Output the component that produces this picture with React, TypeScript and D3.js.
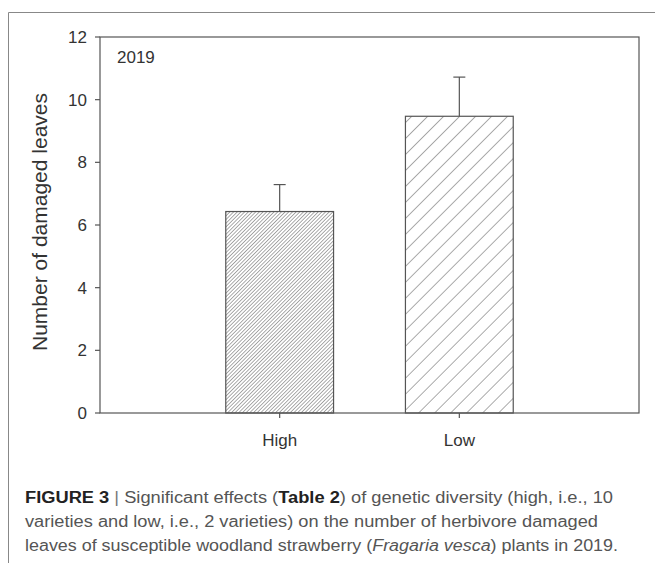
import React from 'react';
import * as d3 from 'd3';

const categories = ['High', 'Low'];
const meanValues = [6.43, 9.47];
const errorValues = [0.86, 1.25];
const yTicks = [0, 2, 4, 6, 8, 10, 12];

const W = 655;
const H = 563;
const margin = { top: 37, right: 16, bottom: 150, left: 100 };
const ink = '#555';
const font = '"Liberation Sans", Arial, sans-serif';
// perpendicular spacing of the diagonal hatching, dense for High, sparse for Low
const hatchGap = [2.6, 11.3];

const App: React.FC = () => {
  const x = d3
    .scaleBand<string>()
    .domain(categories)
    .range([margin.left, W - margin.right])
    .paddingInner(0.4)
    .paddingOuter(0.7);
  const y = d3.scaleLinear().domain([0, 12]).range([H - margin.bottom, margin.top]);
  const bottom = y(0);

  return (
    <svg width={W} height={H} style={{ position: 'absolute', left: 0, top: 0, background: '#fff' }}>
      <defs>
        {categories.map((c, i) => (
          <pattern
            key={c}
            id={`hatch-${i}`}
            patternUnits="userSpaceOnUse"
            width={hatchGap[i]}
            height={hatchGap[i]}
            patternTransform="rotate(45)"
          >
            <line x1={0} y1={0} x2={0} y2={hatchGap[i]} stroke="#444" strokeWidth={0.9} />
          </pattern>
        ))}
      </defs>

      {/* outer frame */}
      <line x1={8.5} y1={12.5} x2={W} y2={12.5} stroke="#888" strokeWidth={1} />
      <line x1={8.5} y1={12.5} x2={8.5} y2={H} stroke="#888" strokeWidth={1} />

      {/* bars with upper error bars */}
      {categories.map((c, i) => {
        const bx = x(c)!;
        const bw = x.bandwidth();
        const cx = bx + bw / 2;
        const top = y(meanValues[i] + errorValues[i]);
        return (
          <g key={c}>
            <rect
              x={bx}
              y={y(meanValues[i])}
              width={bw}
              height={bottom - y(meanValues[i])}
              fill={`url(#hatch-${i})`}
              stroke={ink}
              strokeWidth={1.2}
            />
            <line x1={cx} x2={cx} y1={y(meanValues[i])} y2={top} stroke={ink} strokeWidth={1.2} />
            <line x1={cx - 6} x2={cx + 6} y1={top} y2={top} stroke={ink} strokeWidth={1.2} />
          </g>
        );
      })}

      {/* plot frame */}
      <rect
        x={margin.left}
        y={margin.top}
        width={W - margin.right - margin.left}
        height={bottom - margin.top}
        fill="none"
        stroke={ink}
        strokeWidth={1.2}
      />

      {/* y ticks */}
      {yTicks.map((t) => (
        <g key={t}>
          <line x1={margin.left - 5} x2={margin.left} y1={y(t)} y2={y(t)} stroke={ink} strokeWidth={1.2} />
          <text x={margin.left - 13} y={y(t)} dy="0.35em" textAnchor="end" fontSize={17} fontFamily={font} fill="#333">
            {t}
          </text>
        </g>
      ))}

      {/* x ticks */}
      {categories.map((c) => {
        const cx = x(c)! + x.bandwidth() / 2;
        return (
          <g key={c}>
            <line x1={cx} x2={cx} y1={bottom} y2={bottom + 5} stroke={ink} strokeWidth={1.2} />
            <text x={cx} y={bottom + 33} textAnchor="middle" fontSize={17} fontFamily={font} fill="#333">
              {c}
            </text>
          </g>
        );
      })}

      <text x={117} y={63} fontSize={17} fontFamily={font} fill="#333">
        2019
      </text>

      <text
        transform={`translate(47, 222) rotate(-90)`}
        textAnchor="middle"
        fontSize={21}
        fontFamily={font}
        fill="#333"
      >
        Number of damaged leaves
      </text>

      {/* caption */}
      <g fontFamily={font} fontSize={16} fill="#555">
        <text x={25} y={503} textLength={588} lengthAdjust="spacingAndGlyphs">
          <tspan fontWeight="bold" fill="#222">FIGURE 3</tspan>
          <tspan fill="#777"> | </tspan>
          <tspan>Significant effects (</tspan>
          <tspan fontWeight="bold" fill="#222">Table 2</tspan>
          <tspan>) of genetic diversity (high, i.e., 10</tspan>
        </text>
        <text x={25} y={527} textLength={573} lengthAdjust="spacingAndGlyphs">
          varieties and low, i.e., 2 varieties) on the number of herbivore damaged
        </text>
        <text x={25} y={551} textLength={593} lengthAdjust="spacingAndGlyphs">
          <tspan>leaves of susceptible woodland strawberry (</tspan>
          <tspan fontStyle="italic">Fragaria vesca</tspan>
          <tspan>) plants in 2019.</tspan>
        </text>
      </g>
    </svg>
  );
};

export default App;
